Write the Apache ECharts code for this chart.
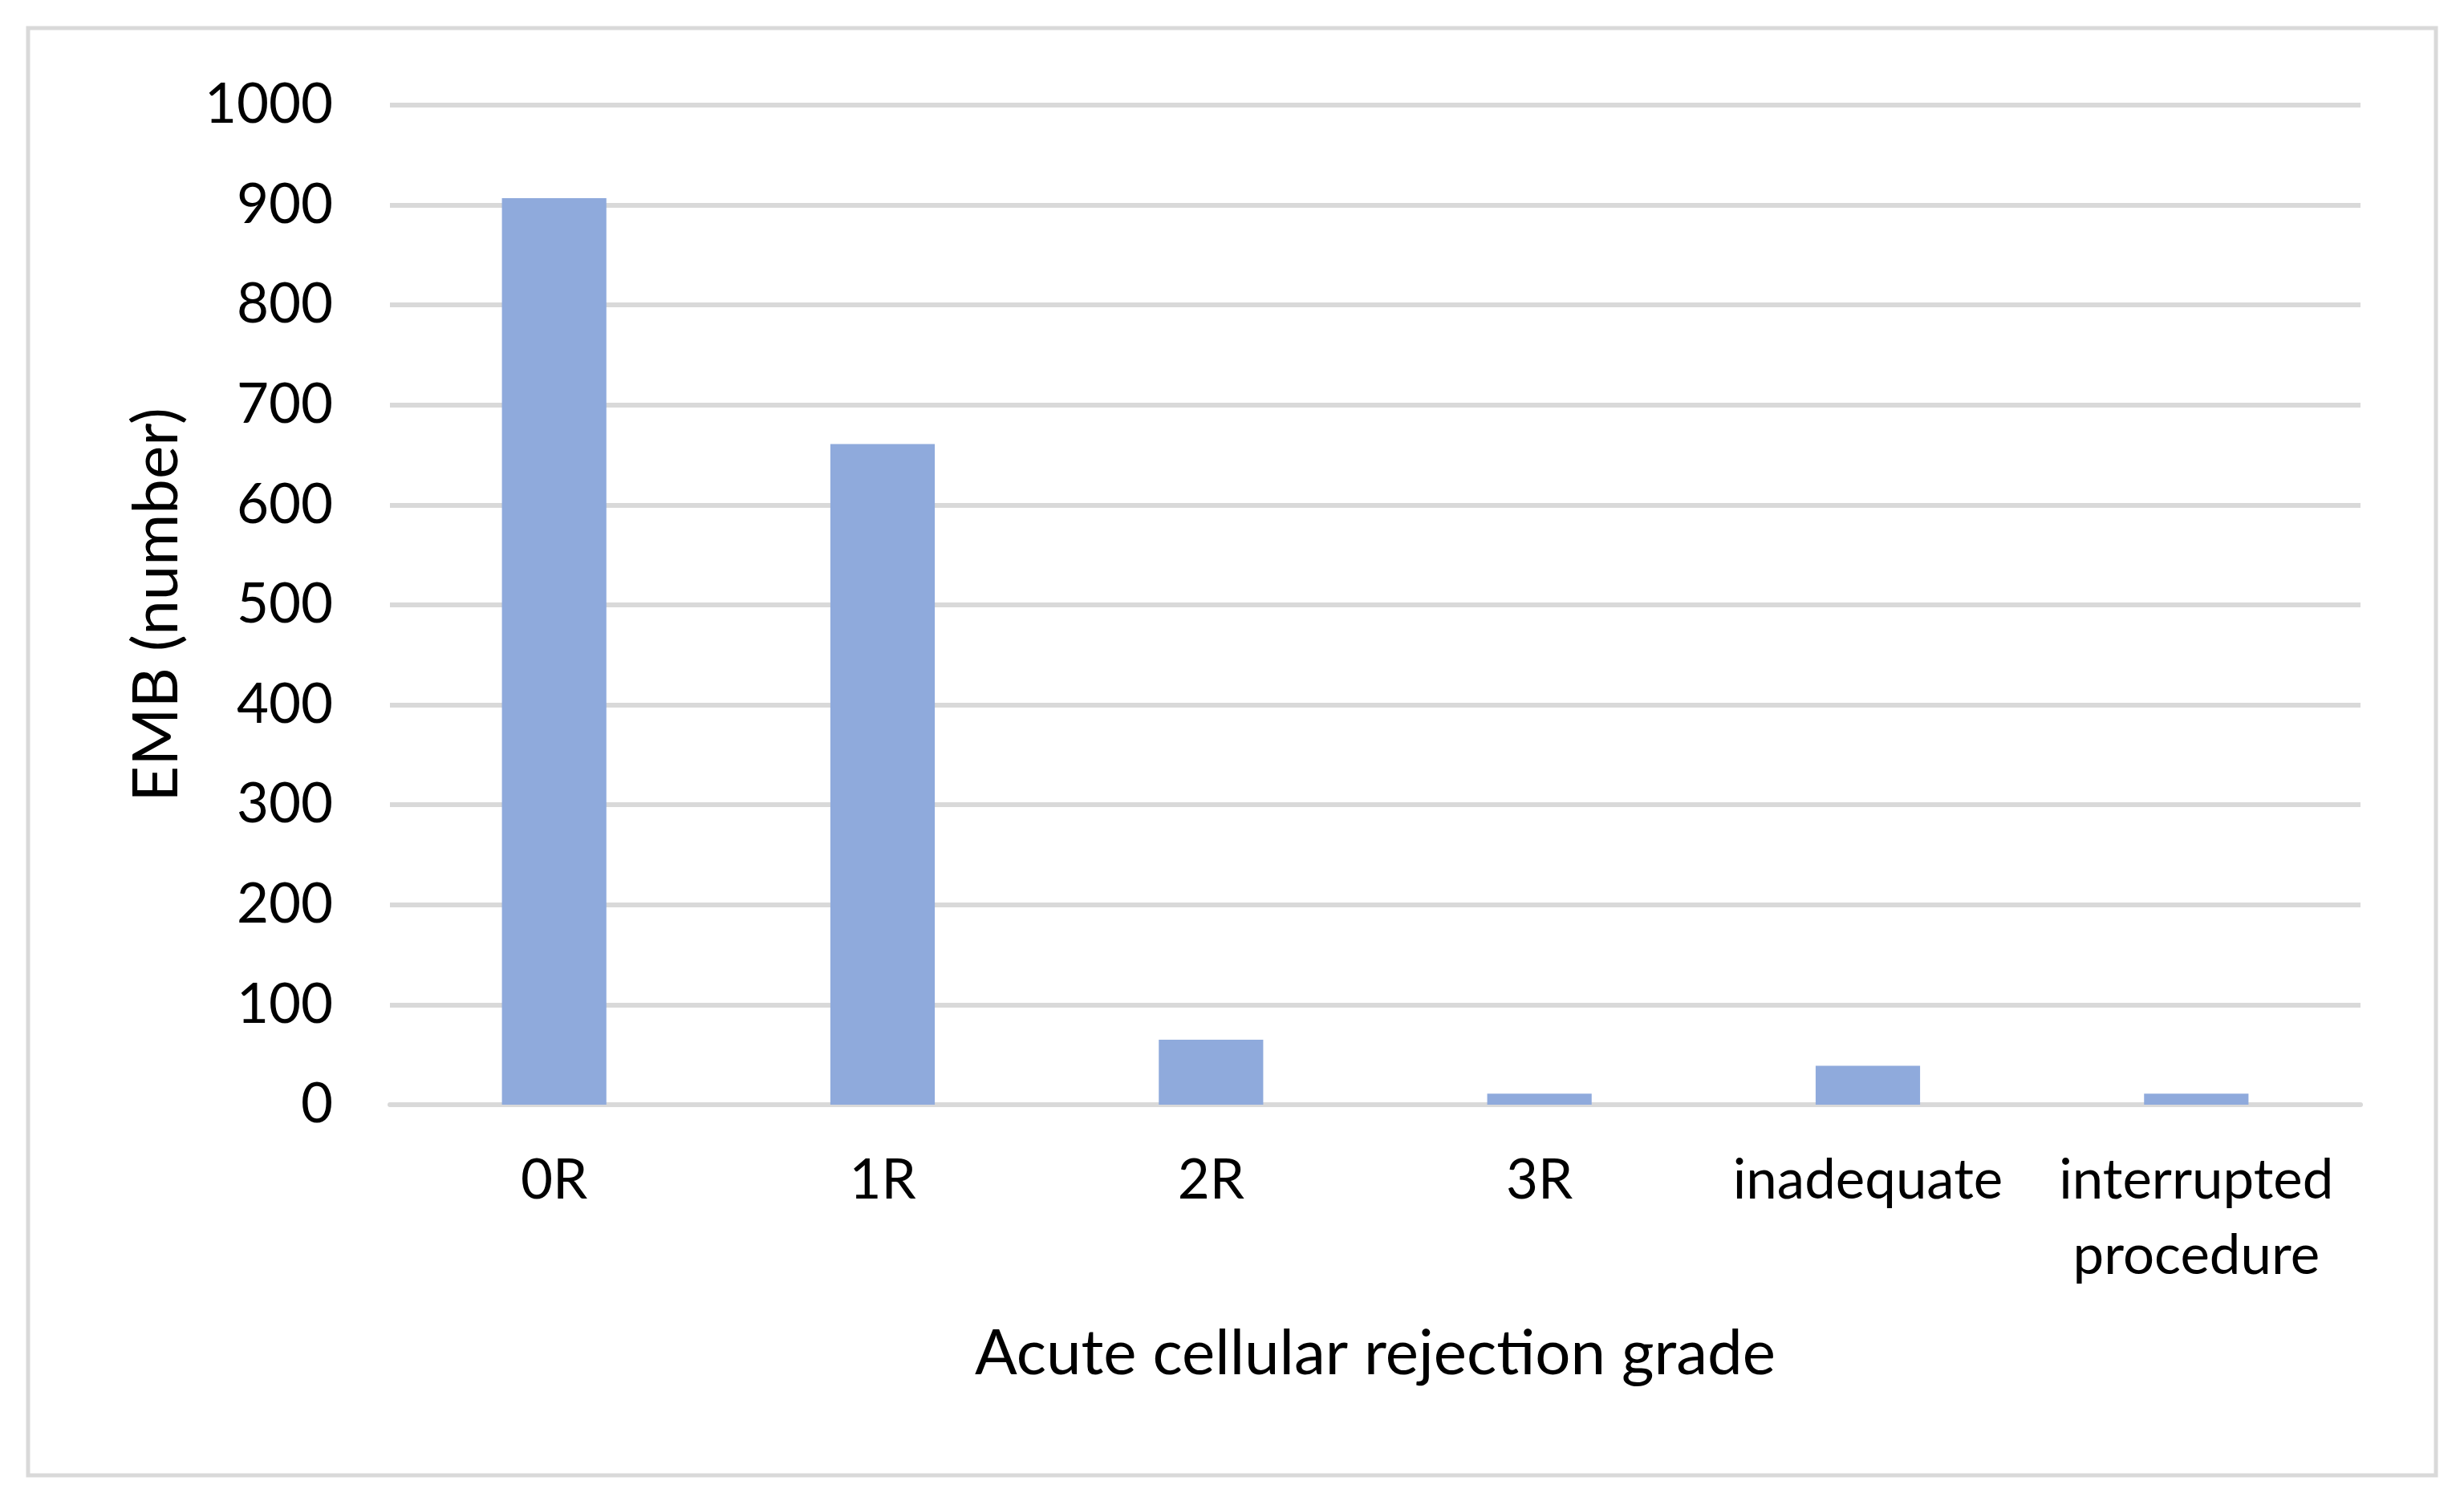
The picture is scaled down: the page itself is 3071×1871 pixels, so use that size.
<!DOCTYPE html>
<html>
<head>
<meta charset="utf-8">
<script src="https://cdn.jsdelivr.net/npm/echarts@6/dist/echarts.min.js"></script>
<style>
html,body{margin:0;padding:0;background:#fff;}
#chart{width:3071px;height:1871px;}
</style>
</head>
<body>
<div id="chart"></div>
<script>
const categories = ['0R', '1R', '2R', '3R', 'inadequate', 'interrupted\nprocedure'];
const embCounts = [907, 661, 65, 11, 39, 11];
const yTicks = { min: 0, max: 1000, interval: 100 };
const xTitle = 'Acute cellular rejection grade';
const yTitle = 'EMB (number)';

const FONT = 'Lato, "Open Sans", sans-serif';
const chart = echarts.init(document.getElementById('chart'), null, { renderer: 'canvas' });
chart.setOption({
  backgroundColor: '#ffffff',
  animation: false,
  graphic: [{
    type: 'rect',
    shape: { x: 35, y: 35, width: 3001, height: 1804 },
    style: { fill: 'none', stroke: '#d9d9d9', lineWidth: 5 },
    silent: true
  }],
  grid: { left: 486, right: 129, top: 131, bottom: 494, containLabel: false },
  xAxis: {
    type: 'category',
    data: categories,
    axisLine: { show: true, lineStyle: { color: '#d9d9d9', width: 6 } },
    axisTick: { show: false },
    axisLabel: { color: '#000', fontFamily: FONT, fontSize: 69, lineHeight: 94, margin: 48, interval: 0 },
    name: xTitle,
    nameLocation: 'middle',
    nameGap: 272,
    nameTextStyle: { color: '#000', fontFamily: FONT, fontSize: 78 }
  },
  yAxis: {
    type: 'value',
    min: yTicks.min, max: yTicks.max, interval: yTicks.interval,
    axisLine: { show: false },
    axisTick: { show: false },
    splitLine: { show: true, lineStyle: { color: '#d9d9d9', width: 6 } },
    axisLabel: { color: '#000', fontFamily: FONT, fontSize: 69, margin: 71, formatter: v => String(v) },
    name: yTitle,
    nameLocation: 'middle',
    nameGap: 251,
    nameRotate: 90,
    nameTextStyle: { color: '#000', fontFamily: FONT, fontSize: 78 }
  },
  series: [{
    type: 'bar',
    data: embCounts,
    barWidth: '31.8%',
    itemStyle: { color: '#8faadc' }
  }]
});
</script>
</body>
</html>
